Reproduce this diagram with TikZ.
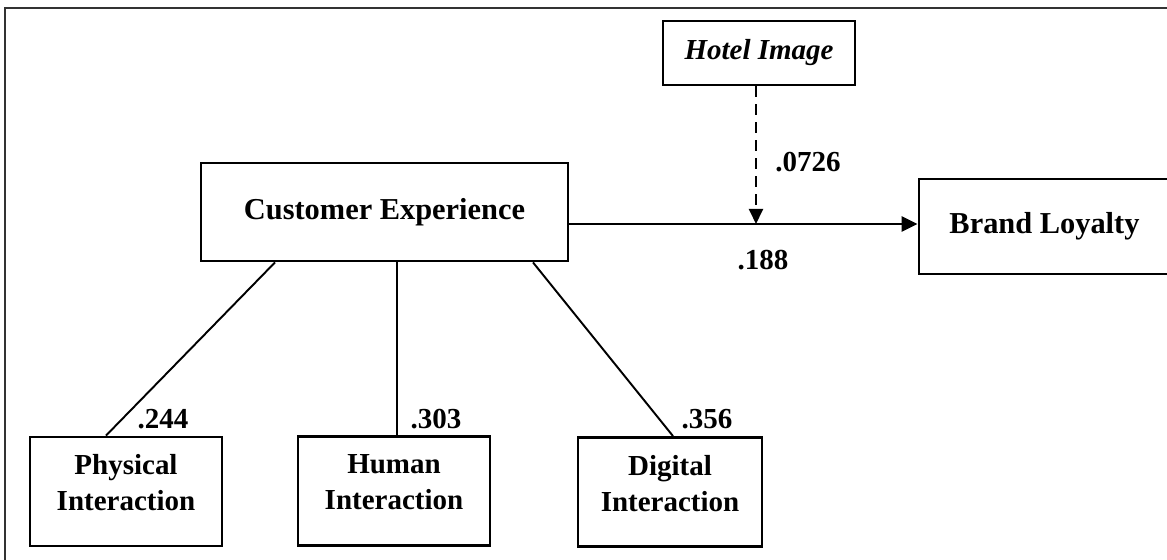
\documentclass[tikz,border=0pt]{standalone}
\usepackage{fontspec}
\setmainfont{Liberation Serif}
\usepackage{tikz}
\usetikzlibrary{arrows.meta}

\begin{document}
\begin{tikzpicture}[
  font=\fontsize{16.5pt}{20.5pt}\selectfont\bfseries,
  var/.style={rectangle, draw, line width=1.6pt, align=center, inner sep=2pt},
  big/.style={var, font=\fontsize{17.3pt}{21pt}\selectfont\bfseries},
  dim/.style={var, minimum width=3.84cm, minimum height=2.18cm, text depth=0.36cm},
  coef/.style={inner sep=1pt},
  link/.style={line width=1.1pt},
  arr/.style={-{Triangle[length=3.2mm,width=3mm]}, line width=1.5pt},
  moder/.style={-{Triangle[length=3mm,width=2.8mm]}, line width=1.1pt, dash pattern=on 2.2mm off 1.4mm}
]
  \useasboundingbox (0,0) rectangle (23.34,11.2);
  \draw[line width=1pt, black!80] (0.1,-0.2) -- (0.1,11.04) -- (23.6,11.04);

  \node[big, minimum width=7.34cm, minimum height=1.96cm] (ce) at (7.69,6.96) {Customer Experience};
  \node[big, minimum width=5.02cm, minimum height=1.9cm] (bl) at (20.89,6.67) {Brand Loyalty};
  \node[var, minimum width=3.84cm, minimum height=1.28cm, font=\fontsize{16.5pt}{20.5pt}\selectfont\bfseries\itshape] (hotel) at (15.18,10.14) {Hotel Image};

  \node[dim] (phys) at (2.52,1.37) {Physical\\Interaction};
  \node[dim] (hum) at (7.88,1.38) {Human\\Interaction};
  \node[dim, minimum width=3.68cm] (dig) at (13.40,1.36) {Digital\\Interaction};

  % main path and moderator
  \draw[arr] ([yshift=-0.24cm]ce.east) -- ([yshift=-0.24cm]ce.east -| bl.west);
  \coordinate (mod) at ([xshift=-0.06cm]hotel.south |- 0,6.72);
  \draw[moder] ([xshift=-0.06cm]hotel.south) -- (mod);

  % dimensions
  \draw[link] ([xshift=-2.19cm]ce.south) -- ([xshift=-0.40cm]phys.north);
  \draw[link] ([xshift=0.25cm]ce.south) -- ([xshift=0.25cm]ce.south |- hum.north);
  \draw[link] ([xshift=2.97cm]ce.south) -- ([xshift=0.06cm]dig.north);

  \node[coef] (c1) at (16.16,7.96) {.0726};
  \node[coef] (c2) at (15.26,6.00) {.188};
  \node[coef] (c3) at (3.26,2.82) {.244};
  \node[coef] (c4) at (8.72,2.82) {.303};
  \node[coef] (c5) at (14.14,2.82) {.356};
\end{tikzpicture}
\end{document}
